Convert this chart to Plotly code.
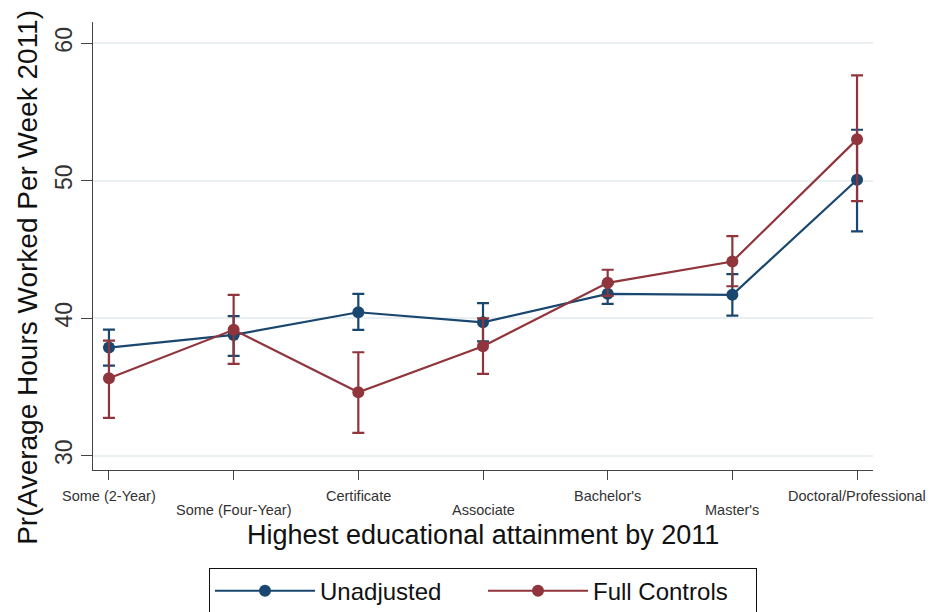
import plotly.graph_objects as go

# Education categories (x axis)
categories = ["Some (2-Year)", "Some (Four-Year)", "Certificate", "Associate",
              "Bachelor's", "Master's", "Doctoral/Professional"]

# Predicted average hours worked per week, with 95% CI bounds
unadj_mean = [37.86, 38.78, 40.43, 39.70, 41.77, 41.70, 50.07]
unadj_low = [36.55, 37.25, 39.15, 38.31, 41.04, 40.19, 46.31]
unadj_high = [39.17, 40.14, 41.77, 41.09, 42.50, 43.21, 53.71]

full_mean = [35.63, 39.15, 34.61, 37.96, 42.57, 44.12, 53.01]
full_low = [32.74, 36.67, 31.65, 35.94, 41.62, 42.32, 48.51]
full_high = [38.37, 41.70, 37.52, 39.98, 43.52, 45.97, 57.67]

y_ticks = [30, 40, 50, 60]

BLUE = "#1a476f"
RED = "#90353b"
FONT = "Liberation Sans, Arial, sans-serif"

x_pos = list(range(len(categories)))


def series(name, mean, low, high, color):
    return go.Scatter(
        x=x_pos, y=mean, name=name, mode="lines+markers",
        line=dict(color=color, width=2.2),
        marker=dict(color=color, size=12),
        error_y=dict(type="data", symmetric=False,
                     array=[h - m for h, m in zip(high, mean)],
                     arrayminus=[m - l for m, l in zip(mean, low)],
                     color=color, thickness=2.2, width=6),
    )


fig = go.Figure()
fig.add_trace(series("Unadjusted", unadj_mean, unadj_low, unadj_high, BLUE))
fig.add_trace(series("Full Controls", full_mean, full_low, full_high, RED))

# Category labels, staggered over two rows so the long names don't collide
for i, cat in enumerate(categories):
    fig.add_annotation(
        x=i, xref="x", y=0, yref="paper",
        text=cat, showarrow=False, xanchor="center", yanchor="middle",
        yshift=-26 if i % 2 == 0 else -39.5,
        font=dict(family=FONT, size=14.5, color="#333"),
    )

# Axis titles
fig.add_annotation(
    text="Highest educational attainment by 2011",
    x=0.5, xref="paper", y=0, yref="paper", yshift=-65,
    xanchor="center", yanchor="middle", showarrow=False,
    font=dict(family=FONT, size=27, color="#111"),
)
fig.add_annotation(
    text="Pr(Average Hours Worked Per Week 2011)",
    x=0, xref="paper", xshift=-65.5, y=0.43, yref="paper",
    xanchor="center", yanchor="middle", showarrow=False, textangle=-90,
    font=dict(family=FONT, size=28, color="#111"),
)

fig.update_layout(
    width=930, height=612,
    margin=dict(l=93, r=57, t=22, b=142, autoexpand=False),
    paper_bgcolor="white", plot_bgcolor="white",
    font=dict(family=FONT, color="#222"),
    showlegend=True,
    legend=dict(
        orientation="h", x=0.5, xanchor="center", y=-0.218, yanchor="top",
        bordercolor="#111", borderwidth=1, bgcolor="white",
        font=dict(family=FONT, size=24, color="#111"),
        itemwidth=100, entrywidth=158,
    ),
)

fig.update_xaxes(
    range=[-0.128, 6.128],
    tickvals=x_pos, showticklabels=False,
    ticks="outside", ticklen=9, tickcolor="#444", tickwidth=1.2,
    showline=True, linecolor="#444", linewidth=1.2,
    showgrid=False, zeroline=False, automargin=False,
)

fig.update_yaxes(
    range=[28.95, 61.55],
    tickvals=y_ticks, ticktext=[str(t) for t in y_ticks],
    tickangle=-90,
    tickfont=dict(family=FONT, size=23, color="#333"),
    ticks="outside", ticklen=11, tickcolor="#444", tickwidth=1.2,
    showline=True, linecolor="#444", linewidth=1.2,
    showgrid=True, gridcolor="#eaf0f1", gridwidth=1.5,
    zeroline=False, automargin=False,
)

fig.write_html("out.html")
